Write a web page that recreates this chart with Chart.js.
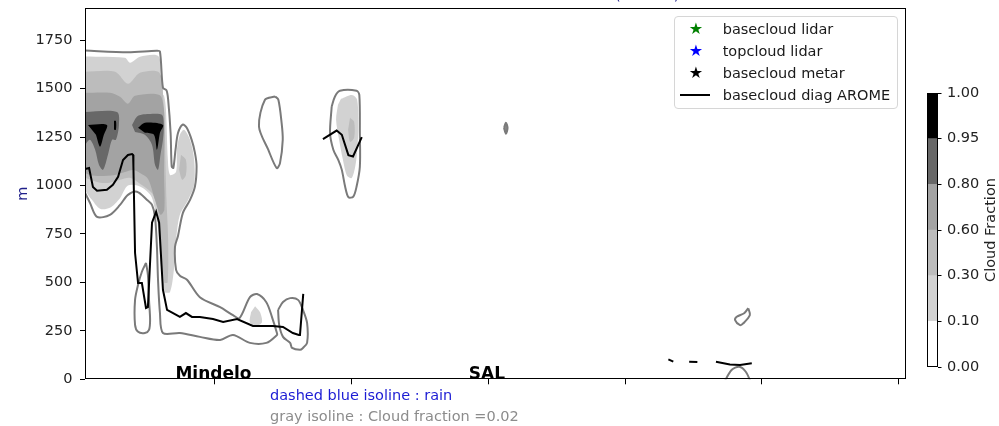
<!DOCTYPE html>
<html>
<head>
<meta charset="utf-8">
<script src="https://cdn.jsdelivr.net/npm/chart.js@4.4.0/dist/chart.umd.min.js"></script>
<style>
    html, body { margin: 0; padding: 0; background: #fff; }
    #wrap { position: relative; width: 999px; height: 426px; font-family: 'DejaVu Sans', sans-serif; }
    #main { position: absolute; left: 0; top: 0; }
    #cbar { position: absolute; left: 900px; top: 80px; }
    #legend { position: absolute; left: 674px; top: 16px; width: 224px; height: 93px; box-sizing: border-box;
              border: 1px solid #d6d6d6; border-radius: 4px; background: rgba(255,255,255,0.8); }
    .row { position: absolute; left: 0; width: 100%; height: 22px; line-height: 22px; font-size: 14.5px; color: #1a1a1a; white-space: nowrap; }
    .mk { position: absolute; left: 13px; width: 16px; text-align: center; font-size: 16px; }
    .tx { position: absolute; left: 47.7px; }
    .ln { position: absolute; left: 5px; top: 10px; width: 30px; height: 2px; background: #000; }
</style>
</head>
<body>
<div id="wrap">
    <canvas id="main" width="999" height="426"></canvas>
    <canvas id="cbar" width="99" height="300"></canvas>
    <div id="legend"></div>
</div>
<script>
// axes
const yMax = 1915;
const xTickPos = [47.5, 97.5, 147.5, 197.5, 247.5, 297.5];
const stations = ['Mindelo', 'SAL'];
const stationPos = [47.5, 147.5];

// colour levels of cloud fraction
const cfLevels = [0, 0.1, 0.3, 0.6, 0.8, 0.95, 1.0];
const cfColors = ['#ffffff', '#d2d2d2', '#bcbcbc', '#a3a3a3', '#686868', '#000000'];

// filled cloud fraction areas [distance, height m]
const cf1Main = [[0,1666],[14.6,1660],[16.5,1634],[20.1,1665],[27.0,1665],[27.6,1484],[28.9,1463],[29.6,1391],[30.3,1133],[31.1,1055],[33.3,1071],[33.6,1185],[34.7,1262],[36.2,1288],[38.4,1236],[39.9,1133],[39.9,1004],[37.7,926],[34.7,849],[33.3,720],[32.5,565],[31.1,451],[29.2,451],[27.9,565],[27.0,720],[26.4,823],[25.4,890],[24.0,950],[20.1,995],[15.7,1000],[12.8,935],[9.1,885],[5.5,880],[2.6,925],[0,975]];
const cf1Shelf = [[62.2,377],[64.0,346],[64.7,294],[62.5,274],[60.3,294],[60.7,346]];
const cf1East = [[93.6,1448],[97.6,1468],[99.5,1443],[99.9,1288],[99.2,1133],[97.6,1040],[95.8,1051],[94.3,1133],[92.9,1236],[91.8,1340],[92.5,1417]];
const cf2Main = [[0,1587],[11.0,1587],[15.7,1525],[20.1,1582],[27.2,1582],[28.7,1430],[29.2,1300],[29.4,1133],[29.8,926],[30.4,720],[30.2,500],[29.0,500],[27.6,720],[26.6,875],[24.5,960],[20.1,1010],[16.5,1040],[12.8,1030],[9.1,1015],[5.5,1015],[0,1040]];
const cf2Lobe = [[35.1,1159],[36.9,1133],[36.9,1055],[35.5,1030],[34.4,1081]];
const cf2East = [[96.9,1350],[98.4,1329],[98.4,1247],[96.9,1226],[96.2,1288]];
const cf3Main = [[0,1479],[9.1,1479],[12.8,1458],[15.7,1422],[18.3,1463],[27.2,1468],[28.8,1400],[29.0,1288],[28.9,1055],[29.0,875],[27.6,849],[25.6,926],[23.0,1035],[20.1,1065],[17.6,1080],[14.6,1070],[11.0,1055],[5.5,1050],[1.8,1055],[0,1065]];
const cf4Left = [[0,1380],[11.7,1380],[12.4,1313],[11.3,1236],[9.9,1236],[8.4,1159],[6.6,1081],[5.1,1107],[3.7,1185],[1.8,1236],[0,1210]];
const cf4Right = [[17.2,1313],[19.4,1360],[23.8,1370],[28.1,1365],[28.8,1313],[28.5,1236],[27.6,1159],[26.7,1081],[25.6,1107],[24.5,1210],[21.9,1262],[18.3,1277]];
const cf5Left = [[1.1,1313],[8.0,1313],[6.9,1262],[5.5,1201],[4.0,1262]];
const cf5Dot = [[10.6,1334],[11.3,1334],[11.3,1288],[10.6,1288]];
const cf5Right = [[19.4,1298],[21.9,1324],[28.5,1313],[27.4,1272],[26.3,1185],[25.2,1262],[21.9,1272]];

// gray isolines, cloud fraction = 0.02
const isoMain = [[0,1697],[15.7,1688],[26.2,1696],[27.4,1692],[28.5,1505],[29.8,1491],[30.4,1444],[31.3,1271],[31.7,1099],[32.3,1091],[33.1,1185],[34.0,1271],[35.7,1315],[37.2,1298],[39.0,1236],[40.2,1169],[40.8,1099],[40.2,995],[38.4,926],[35.8,859],[34.0,740],[32.9,683],[33.3,565],[34.7,534],[37.3,514],[42.0,424],[49.4,372],[54.1,331],[56.5,316],[60.3,424],[62.9,440],[66.3,398],[68.4,320],[70.2,238],[70.2,229],[66.3,188],[60.3,188],[54.1,229],[49.4,203],[42.0,219],[34.7,239],[28.5,239],[27.4,343],[26.7,514],[26.3,683],[25.6,838],[24.5,900],[22.7,926],[19.0,968],[15.7,952],[12.8,900],[9.1,849],[4.4,838],[1.8,911],[0,963]];
const isoLobeLow = [[22.3,601],[23.0,539],[23.4,410],[23.8,306],[23.4,255],[21.9,239],[19.4,245],[18.3,281],[18.3,410],[19.4,488],[20.8,555],[22.3,601]];
const isoLobeEast = [[70.6,358],[72.4,399],[75.0,419],[77.9,410],[79.7,358],[81.2,291],[81.2,188],[79.7,162],[78.6,152],[75.7,162],[75.0,188],[72.4,219],[71.0,281],[70.6,358]];
const isoMid = [[69.5,1460],[65.8,1443],[63.6,1305],[67.0,1185],[70.1,1090],[71.3,1116],[72.3,1236],[71.9,1322],[70.7,1443],[69.5,1460]];
const isoEast = [[90.2,1408],[91.4,1460],[93.2,1489],[99.3,1489],[100.3,1468],[100.5,1271],[100.5,1097],[99.3,995],[98.1,943],[96.3,940],[95.1,995],[93.9,1081],[92.6,1133],[90.8,1185],[89.6,1271],[90.2,1408]];
const isoSal = [[153.2,1298],[153.9,1324],[154.5,1298],[153.9,1267],[153.2,1298]];
const isoLowBlob = [[242.5,367],[243.1,332],[240.7,289],[239.5,280],[237.7,306],[238.3,323],[241.0,341],[242.5,367]];
const isoLowArc = [[233.5,-20],[236.4,48],[239.2,65],[241.6,39],[243.6,-20]];

// basecloud diag AROME (null = gap)
const aromeBase = [[0,1085],[1.5,1091],[2.9,993],[4.4,973],[8.0,978],[10.2,1004],[12.1,1045],[13.9,1132],[15.7,1158],[17.2,1163],[17.6,1158],[17.7,1100],[18.3,652],[19.4,497],[20.8,497],[22.3,368],[23.0,373],[24.5,808],[26.0,865],[27.1,808],[28.5,462],[30.0,358],[32.2,342],[34.7,322],[36.9,342],[39.1,322],[42.0,322],[46.8,311],[50.5,296],[55.6,311],[61.4,275],[68.7,275],[72.4,270],[76.0,239],[78.2,229],[78.6,229],[79.8,441],
    [84,null],[87.0,1240],[92.0,1284],[93.9,1262],[96.3,1157],[98.0,1150],[101.2,1250],
    [200,null],[213.3,103],[215.1,91],[218,null],[220.9,91],[223.9,89],[227,null],[230.7,91],[235.8,77],[239.5,74],[243.8,83]];

const legendLabels = ['basecloud lidar', 'topcloud lidar', 'basecloud metar', 'basecloud diag AROME'];
const legendColors = ['#008000', '#0000ff', '#000000', '#000000'];
const noteRain = 'dashed blue isoline : rain';
const noteCloud = 'gray isoline : Cloud fraction =0.02';

Chart.defaults.font.family = "'DejaVu Sans', sans-serif";
Chart.defaults.font.size = 14.5;
Chart.defaults.color = '#222';

function toPts(arr) {
    return arr.map(p => ({x: p[0], y: p[1]}));
}

function cfArea(arr, level) {
    return {data: toPts(arr), fill: 'shape', backgroundColor: cfColors[level], borderWidth: 0,
            pointRadius: 0, tension: 0.3, order: 10 - level};
}

function isoLine(arr) {
    return {data: toPts(arr), fill: false, borderColor: '#7a7a7a', borderWidth: 2,
            pointRadius: 0, tension: 0.3, order: 2};
}

// рамка вокруг области графика
const frame = {
    id: 'frame',
    afterDraw(chart) {
        const {ctx, chartArea: a} = chart;
        const l = Math.round(a.left) + 0.5, t = Math.round(a.top) + 0.5;
        ctx.save();
        ctx.strokeStyle = '#000';
        ctx.lineWidth = 1;
        ctx.strokeRect(l, t, Math.round(a.right) - Math.round(a.left) - 1, Math.round(a.bottom) - Math.round(a.top) - 1);
        ctx.restore();
    }
};

const annotations = {
    id: 'annotations',
    afterDraw(chart) {
        const {ctx, scales: {x, y}} = chart;
        ctx.save();
        ctx.fillStyle = '#000';
        ctx.font = "bold 17px 'DejaVu Sans'";
        ctx.textAlign = 'center';
        ctx.textBaseline = 'alphabetic';
        stations.forEach((name, i) => ctx.fillText(name, x.getPixelForValue(stationPos[i]) - 1.5, y.getPixelForValue(0)));
        ctx.textAlign = 'left';
        ctx.font = "14.5px 'DejaVu Sans'";
        ctx.fillStyle = '#1c1cd4';
        ctx.fillText(noteRain, 270, 400);
        ctx.fillStyle = '#8c8c8c';
        ctx.fillText(noteCloud, 270, 421);
        // хвост заголовка, обрезанного сверху
        ctx.fillStyle = '#20208a';
        ctx.fillText('(AROME)', 615, -0.3);
        ctx.restore();
    }
};

const datasets = [
    {data: toPts(aromeBase), fill: false, borderColor: '#000', borderWidth: 2, pointRadius: 0, tension: 0, order: 1},
    isoLine(isoMain), isoLine(isoLobeLow), isoLine(isoLobeEast), isoLine(isoMid), isoLine(isoEast),
    {...isoLine(isoSal), fill: 'shape', backgroundColor: '#8a8a8a'},
    isoLine(isoLowBlob), isoLine(isoLowArc),
    cfArea(cf5Left, 5), cfArea(cf5Dot, 5), cfArea(cf5Right, 5),
    cfArea(cf4Left, 4), cfArea(cf4Right, 4),
    cfArea(cf3Main, 3),
    cfArea(cf2Main, 2), cfArea(cf2Lobe, 2), cfArea(cf2East, 2),
    cfArea(cf1Main, 1), cfArea(cf1Shelf, 1), cfArea(cf1East, 1)
];

new Chart(document.getElementById('main'), {
    type: 'line',
    data: {datasets: datasets},
    options: {
        responsive: false,
        animation: false,
        events: [],
        layout: {padding: {left: 0, top: 8.3, right: 93.5, bottom: 0}},
        plugins: {legend: {display: false}, tooltip: {enabled: false}},
        scales: {
            x: {
                type: 'linear', min: 0, max: 300,
                border: {display: false},
                grid: {display: true, drawOnChartArea: false, drawTicks: true, tickLength: 5, color: '#000'},
                ticks: {autoSkip: false, callback: () => ''},
                afterBuildTicks: s => { s.ticks = xTickPos.map(v => ({value: v})); },
                afterFit: s => { s.height = 46.7; s.paddingLeft = 0; s.paddingRight = 0; }
            },
            y: {
                type: 'linear', min: 0, max: yMax,
                border: {display: false},
                grid: {display: true, drawOnChartArea: false, drawTicks: true, tickLength: 5, color: '#000'},
                ticks: {stepSize: 250, includeBounds: false, padding: 7.5, color: '#222', callback: v => String(v)},
                title: {display: true, text: 'm', color: '#20208a', font: {size: 14.5}, padding: {top: 14.5, bottom: 0}},
                afterFit: s => { s.width = 85; s.paddingTop = 0; s.paddingBottom = 0; }
            }
        }
    },
    plugins: [frame, annotations]
});

// colorbar
const cbTitle = {
    id: 'cbTitle',
    afterDraw(chart) {
        const {ctx, chartArea: a} = chart;
        ctx.save();
        ctx.translate(91, (a.top + a.bottom) / 2);
        ctx.rotate(-Math.PI / 2);
        ctx.font = "14.5px 'DejaVu Sans'";
        ctx.fillStyle = '#222';
        ctx.textAlign = 'center';
        ctx.textBaseline = 'middle';
        ctx.fillText('Cloud Fraction', 0, 0);
        ctx.restore();
    }
};

new Chart(document.getElementById('cbar'), {
    type: 'bar',
    data: {
        labels: [''],
        datasets: cfColors.map(c => ({data: [1], backgroundColor: c, borderWidth: 0, barPercentage: 1, categoryPercentage: 1}))
    },
    options: {
        responsive: false,
        animation: false,
        events: [],
        layout: {padding: {left: 27, top: 13, right: 0, bottom: 13}},
        plugins: {legend: {display: false}, tooltip: {enabled: false}},
        scales: {
            x: {stacked: true, display: false},
            y: {
                stacked: true, position: 'right', min: 0, max: 6,
                border: {display: false},
                grid: {display: true, drawOnChartArea: false, tickLength: 4, color: '#000'},
                ticks: {stepSize: 1, padding: 5.5, color: '#222', callback: v => cfLevels[v].toFixed(2)},
                afterFit: s => { s.width = 61.5; s.paddingTop = 0; s.paddingBottom = 0; }
            }
        }
    },
    plugins: [frame, cbTitle]
});

// легенда
const legend = document.getElementById('legend');
legendLabels.forEach((label, i) => {
    const row = document.createElement('div');
    row.className = 'row';
    row.style.top = (1 + i * 22) + 'px';
    const mark = i < 3
        ? `<span class="mk" style="color:${legendColors[i]}">★</span>`
        : '<span class="ln"></span>';
    row.innerHTML = mark + `<span class="tx">${label}</span>`;
    legend.appendChild(row);
});
</script>
</body>
</html>
